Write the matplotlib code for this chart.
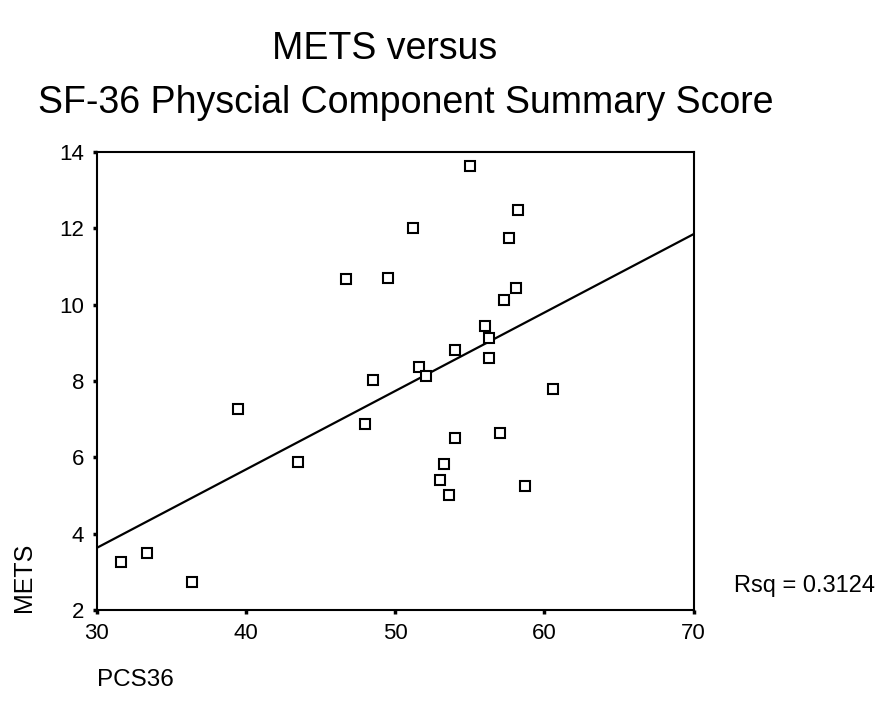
import matplotlib
matplotlib.use("Agg")
import matplotlib.pyplot as plt

pcs36 = [31.6, 33.4, 36.4, 39.5, 43.5, 46.7, 49.5, 48.0, 48.5, 51.2, 51.6, 52.1,
         55.0, 54.0, 54.0, 53.3, 53.0, 53.6, 56.0, 56.3, 56.3, 57.3, 58.1, 57.6,
         58.2, 57.0, 58.7, 60.6]
mets = [3.26, 3.49, 2.73, 7.27, 5.88, 10.67, 10.70, 6.87, 8.03, 12.01, 8.37, 8.13,
        13.63, 8.81, 6.51, 5.83, 5.41, 5.01, 9.44, 9.13, 8.60, 10.12, 10.44, 11.75,
        12.48, 6.64, 5.25, 7.79]
fit_x = [30, 70]
fit_y = [3.63, 11.85]
xticks = [30, 40, 50, 60, 70]
yticks = [2, 4, 6, 8, 10, 12, 14]

plt.rcParams['font.family'] = ['Liberation Sans', 'DejaVu Sans']

fig = plt.figure(figsize=(8.87, 7.17), dpi=100)
ax = fig.add_axes([0.109, 0.149, 0.673, 0.639])
ax.plot(fit_x, fit_y, color='black', lw=1.6)
ax.plot(pcs36, mets, linestyle='none', marker='s', markersize=6.5,
        markerfacecolor='white', markeredgecolor='black', markeredgewidth=1.5)
ax.set_xlim(30, 70)
ax.set_ylim(2, 14)
ax.set_xticks(xticks)
ax.set_yticks(yticks)
ax.tick_params(direction='out', length=3, width=2.5, labelsize=16)
ax.tick_params(axis='y', pad=6)
ax.tick_params(axis='x', pad=6)
for s in ax.spines.values():
    s.set_linewidth(1.5)

fig.text(0.434, 0.932, 'METS versus', fontsize=27, ha='center', va='center')
fig.text(0.458, 0.857, 'SF-36 Physcial Component Summary Score', fontsize=27,
         ha='center', va='center')
fig.text(0.027, 0.146, 'METS', fontsize=18, rotation=90, ha='center', va='bottom')
fig.text(0.109, 0.052, 'PCS36', fontsize=17.5, ha='left', va='center')
fig.text(0.828, 0.183, 'Rsq = 0.3124', fontsize=17, ha='left', va='center')

fig.savefig('out.png', dpi=100)
